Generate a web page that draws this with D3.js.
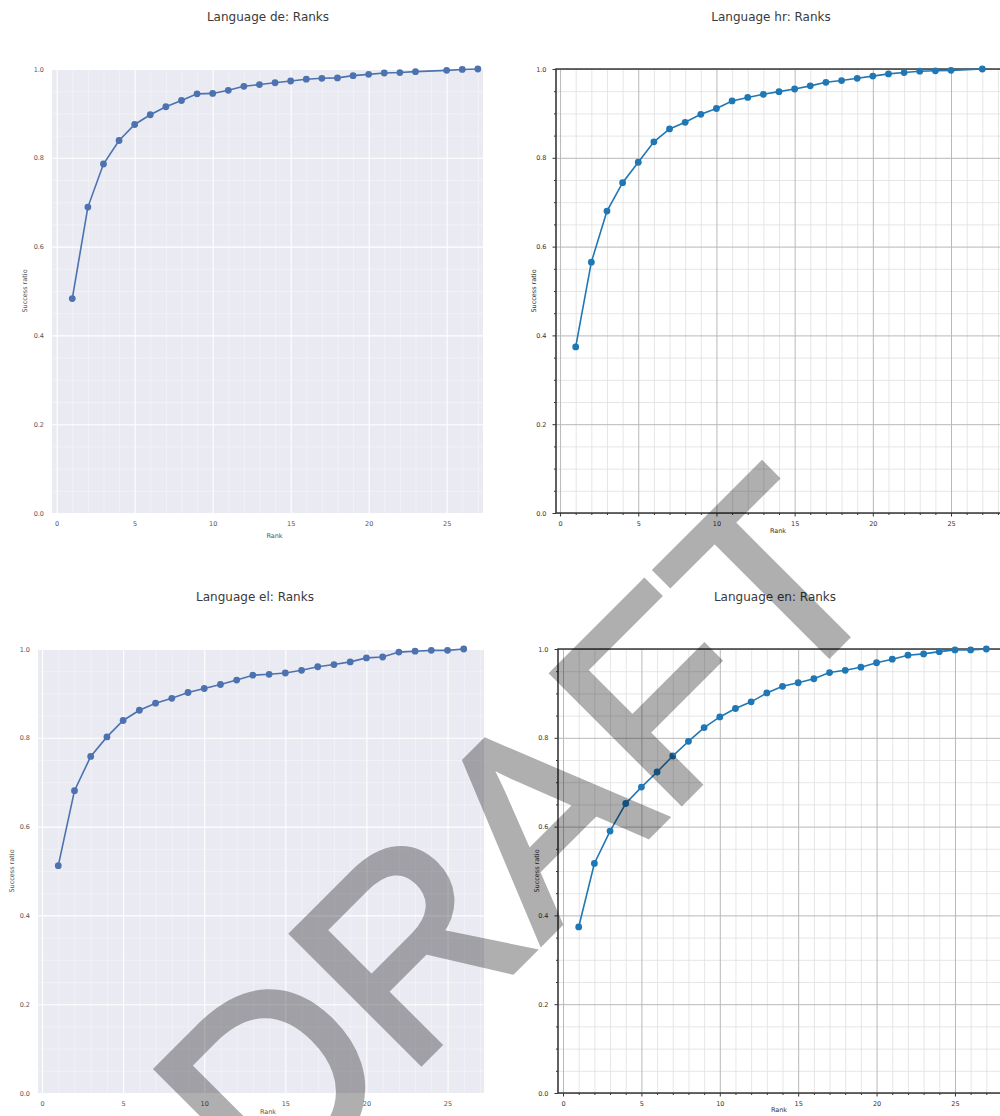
<!DOCTYPE html>
<html>
<head>
<meta charset="utf-8">
<script src="https://cdn.jsdelivr.net/npm/d3@7"></script>
<style>
  body { margin: 0; background: #fff; }
  svg { display: block; }
  text { font-family: "DejaVu Sans", sans-serif; }
</style>
</head>
<body>
<svg id="chart" width="1000" height="1116"></svg>
<script>
// values
const ranksDe = [1, 2, 3, 4, 5, 6, 7, 8, 9, 10, 11, 12, 13, 14, 15, 16, 17, 18, 19, 20, 21, 22, 23, 25, 26, 27];
const ratioDe = [0.483, 0.689, 0.786, 0.839, 0.875, 0.897, 0.915, 0.929, 0.944, 0.945, 0.952, 0.961, 0.965, 0.969,
  0.973, 0.977, 0.979, 0.980, 0.985, 0.988, 0.991, 0.992, 0.994, 0.997, 0.999, 1.0];

const ranksHr = [1, 2, 3, 4, 5, 6, 7, 8, 9, 10, 11, 12, 13, 14, 15, 16, 17, 18, 19, 20, 21, 22, 23, 24, 25, 27];
const ratioHr = [0.374, 0.565, 0.680, 0.744, 0.790, 0.836, 0.865, 0.880, 0.898, 0.911, 0.928, 0.936, 0.943, 0.949,
  0.955, 0.962, 0.970, 0.974, 0.979, 0.984, 0.989, 0.992, 0.995, 0.996, 0.997, 1.0];

const ranksEl = [1, 2, 3, 4, 5, 6, 7, 8, 9, 10, 11, 12, 13, 14, 15, 16, 17, 18, 19, 20, 21, 22, 23, 24, 25, 26];
const ratioEl = [0.512, 0.681, 0.758, 0.802, 0.839, 0.862, 0.878, 0.889, 0.902, 0.911, 0.920, 0.930, 0.941, 0.943,
  0.946, 0.952, 0.960, 0.965, 0.971, 0.980, 0.982, 0.993, 0.995, 0.997, 0.997, 1.0];

const ranksEn = [1, 2, 3, 4, 5, 6, 7, 8, 9, 10, 11, 12, 13, 14, 15, 16, 17, 18, 19, 20, 21, 22, 23, 24, 25, 26, 27];
const ratioEn = [0.374, 0.517, 0.590, 0.652, 0.689, 0.723, 0.759, 0.792, 0.823, 0.847, 0.866, 0.881, 0.901, 0.916,
  0.924, 0.933, 0.947, 0.952, 0.959, 0.969, 0.977, 0.986, 0.989, 0.994, 0.998, 0.998, 1.0];

const xTickValues = [0, 5, 10, 15, 20, 25];
const yTickValues = [0, 0.2, 0.4, 0.6, 0.8, 1.0];
const watermarkText = 'DRAFT';

const svg = d3.select('#chart');

const panels = [
  { title: 'Language de: Ranks', ranks: ranksDe, ratio: ratioDe, style: 'seaborn',
    left: 52, right: 483, top: 69, bottom: 513, xDomain: [-0.3, 27.33],
    titleX: 268, titleY: 21, yLabelX: 25, xLabelY: 538, tickPad: 8 },
  { title: 'Language hr: Ranks', ranks: ranksHr, ratio: ratioHr, style: 'classic',
    left: 556, right: 1002, top: 69, bottom: 513, xDomain: [-0.26, 28.26],
    titleX: 771, titleY: 21, yLabelX: 534, xLabelY: 533, tickPad: 5 },
  { title: 'Language el: Ranks', ranks: ranksEl, ratio: ratioEl, style: 'seaborn',
    left: 38, right: 484, top: 649, bottom: 1093, xDomain: [-0.25, 27.25],
    titleX: 255, titleY: 601, yLabelX: 12, xLabelY: 1114, tickPad: 8 },
  { title: 'Language en: Ranks', ranks: ranksEn, ratio: ratioEn, style: 'classic',
    left: 558, right: 1002, top: 649, bottom: 1093, xDomain: [-0.32, 28.0],
    titleX: 775, titleY: 601, yLabelX: 537, xLabelY: 1112, tickPad: 5 }
];

panels.forEach(drawPanel);

function drawPanel(p) {
  const sea = p.style === 'seaborn';
  const x = d3.scaleLinear().domain(p.xDomain).range([p.left, p.right]);
  const y = d3.scaleLinear().domain([0, 1]).range([p.bottom, p.top]);
  const g = svg.append('g');

  g.append('rect')
    .attr('x', p.left).attr('y', p.top)
    .attr('width', p.right - p.left).attr('height', p.bottom - p.top)
    .attr('fill', sea ? '#eaeaf2' : '#fff');

  const minorX = d3.range(0, Math.floor(p.xDomain[1]) + 1).filter(v => v % 5 !== 0);
  const minorY = d3.range(0.05, 1, 0.05).filter(v => Math.abs(v / 0.2 - Math.round(v / 0.2)) > 0.01);

  // minor grid
  g.append('g').call(d3.axisBottom(x).tickValues(minorX).tickSize(-(p.bottom - p.top)).tickFormat(''))
    .attr('transform', `translate(0,${p.bottom})`)
    .call(a => a.select('.domain').remove())
    .selectAll('line').attr('stroke', sea ? '#fff' : '#e0e0e0').attr('stroke-width', sea ? 0.6 : 0.8)
    .attr('stroke-opacity', sea ? 0.55 : 1);
  g.append('g').call(d3.axisLeft(y).tickValues(minorY).tickSize(-(p.right - p.left)).tickFormat(''))
    .attr('transform', `translate(${p.left},0)`)
    .call(a => a.select('.domain').remove())
    .selectAll('line').attr('stroke', sea ? '#fff' : '#e0e0e0').attr('stroke-width', sea ? 0.6 : 0.8)
    .attr('stroke-opacity', sea ? 0.55 : 1);

  // major grid
  g.append('g').call(d3.axisBottom(x).tickValues(xTickValues).tickSize(-(p.bottom - p.top)).tickFormat(''))
    .attr('transform', `translate(0,${p.bottom})`)
    .call(a => a.select('.domain').remove())
    .selectAll('line').attr('stroke', sea ? '#fff' : '#b8b8b8').attr('stroke-width', sea ? 1.1 : 1);
  g.append('g').call(d3.axisLeft(y).tickValues(yTickValues).tickSize(-(p.right - p.left)).tickFormat(''))
    .attr('transform', `translate(${p.left},0)`)
    .call(a => a.select('.domain').remove())
    .selectAll('line').attr('stroke', sea ? '#fff' : '#b8b8b8').attr('stroke-width', sea ? 1.1 : 1);

  // tick marks + labels
  const labelColor = sea ? '#555' : '#333';
  const xAxis = g.append('g')
    .attr('transform', `translate(0,${p.bottom})`)
    .call(d3.axisBottom(x).tickValues(xTickValues).tickSize(sea ? 0 : 3.5).tickPadding(p.tickPad).tickFormat(d3.format('d')));
  const yAxis = g.append('g')
    .attr('transform', `translate(${p.left},0)`)
    .call(d3.axisLeft(y).tickValues(yTickValues).tickSize(sea ? 0 : 3.5).tickPadding(sea ? 8 : 6).tickFormat(d3.format('.1f')));
  [xAxis, yAxis].forEach(a => {
    a.select('.domain').remove();
    a.selectAll('text').attr('fill', labelColor).style('font-size', '6.5px');
    a.selectAll('line').attr('stroke', '#333');
  });

  if (!sea) {
    g.append('g').attr('transform', `translate(0,${p.bottom})`)
      .call(d3.axisBottom(x).tickValues(minorX).tickSize(2).tickFormat(''))
      .call(a => a.select('.domain').remove())
      .selectAll('line').attr('stroke', '#333');
    g.append('g').attr('transform', `translate(${p.left},0)`)
      .call(d3.axisLeft(y).tickValues(minorY).tickSize(2).tickFormat(''))
      .call(a => a.select('.domain').remove())
      .selectAll('line').attr('stroke', '#333');
    // spines (right one falls outside the picture)
    g.append('path')
      .attr('d', `M${p.right},${p.top}H${p.left}V${p.bottom}H${p.right}`)
      .attr('fill', 'none').attr('stroke', '#3a3a3a').attr('stroke-width', 1.6);
  }

  // series
  const color = sea ? '#4c72b0' : '#1f77b4';
  const pts = p.ranks.map((r, i) => [r, p.ratio[i]]);
  g.append('path')
    .datum(pts)
    .attr('fill', 'none')
    .attr('stroke', color)
    .attr('stroke-width', 1.6)
    .attr('d', d3.line().x(d => x(d[0])).y(d => y(d[1])));
  g.append('g').selectAll('circle')
    .data(pts)
    .enter()
    .append('circle')
    .attr('cx', d => x(d[0]))
    .attr('cy', d => y(d[1]))
    .attr('r', 3.4)
    .attr('fill', color);

  // texts
  g.append('text')
    .attr('x', p.titleX).attr('y', p.titleY)
    .attr('text-anchor', 'middle')
    .attr('fill', '#3a3a3a')
    .style('font-size', '12px')
    .text(p.title);
  g.append('text')
    .attr('x', (p.left + Math.min(p.right, 1000)) / 2 + (sea ? 7 : 0)).attr('y', p.xLabelY)
    .attr('text-anchor', 'middle')
    .attr('fill', labelColor)
    .style('font-size', '6.5px')
    .text('Rank');
  g.append('text')
    .attr('transform', `translate(${p.yLabelX},${(p.top + p.bottom) / 2}) rotate(-90)`)
    .attr('text-anchor', 'middle')
    .attr('dy', '0.35em')
    .attr('fill', labelColor)
    .style('font-size', '6.5px')
    .text('Success ratio');
}

// watermark over everything, thickened a little with a stroke inside a faded group
svg.append('g')
  .attr('opacity', 0.31)
  .append('text')
  .attr('transform', 'translate(583,901) rotate(-45)')
  .attr('text-anchor', 'middle')
  .style('font-family', '"Liberation Sans", Arial, sans-serif')
  .style('font-size', '265px')
  .attr('fill', '#000')
  .attr('stroke', '#000')
  .attr('stroke-width', 6)
  .attr('stroke-linejoin', 'miter')
  .text(watermarkText);
</script>
</body>
</html>
